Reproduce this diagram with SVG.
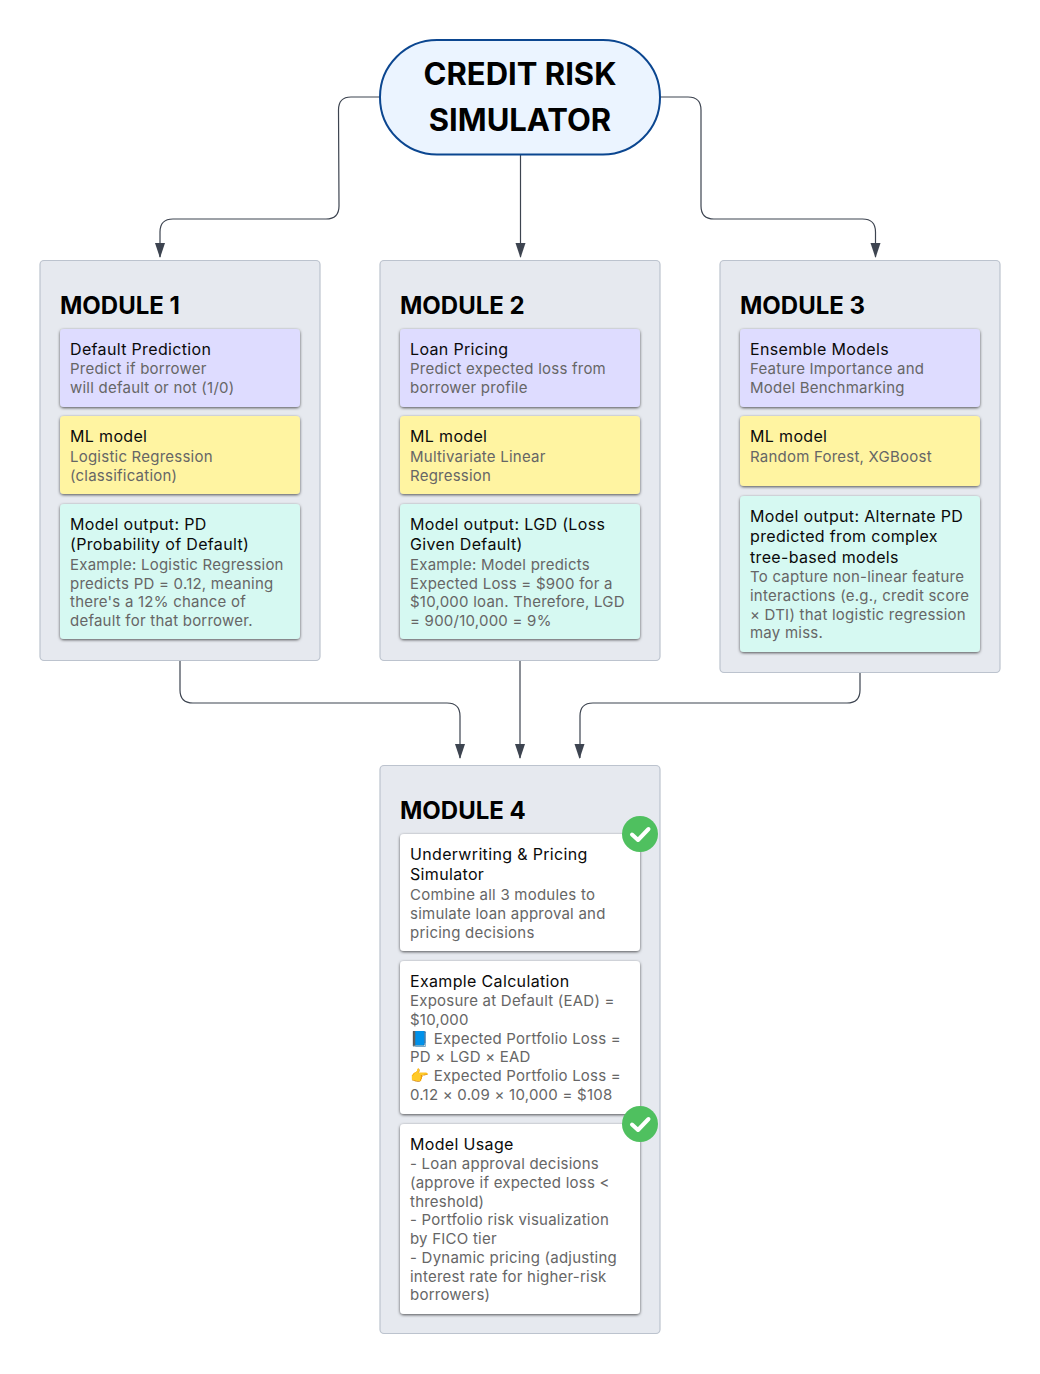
<svg xmlns="http://www.w3.org/2000/svg" width="1040" height="1374" viewBox="0 0 1040 1374">
<defs>
<filter id="sh" x="-5%" y="-5%" width="110%" height="115%"><feDropShadow dx="0" dy="1" stdDeviation="1.500" flood-color="#000" flood-opacity="0.65"/></filter>
</defs>
<style>
text{font-family:Inter,"Noto Sans",sans-serif;}
.mod{fill:#e6e9ef;stroke:#bcc3ce;stroke-width:1.2;}
.mt{font-size:24px;font-weight:700;fill:#000;}
.card{stroke:none;filter:url(#sh);}
.p{fill:#dedcff;}.y{fill:#fff4a1;}.g{fill:#d6f9f2;}.w{fill:#fff;}
.t{font-size:16px;fill:#0a0a0a;letter-spacing:.34px;}
.s{font-size:15px;fill:#666;letter-spacing:.23px;}
.c{fill:none;stroke:#3d4450;stroke-width:1.2;}
.h{font-size:31px;font-weight:700;fill:#000;text-anchor:middle;}
</style>
<g id="connectors">
<path class="c" d="M380 97H351Q338.500 97 338.500 110L339 206Q339 219 326 219H173Q160 219 160 232V257" />
<path class="c" d="M520.500 155V257"/>
<path class="c" d="M660 97H688Q701 97 701 110V206Q701 219 714 219H862.500Q875.500 219 875.500 232V257"/>
<path class="c" d="M180 660V690Q180 703 193 703H447Q460 703 460 716V758"/>
<path class="c" d="M520 660V758"/>
<path class="c" d="M860 672V690Q860 703 847 703H593Q580 703 580 716V758"/>
<g fill="#3d4450">
<path d="M155 243H165L160 258Z"/><path d="M515.500 243H525.500L520.500 258Z"/><path d="M870.500 243H880.500L875.500 258Z"/>
<path d="M455 744H465L460 759Z"/><path d="M515 744H525L520 759Z"/><path d="M574.500 744H584.500L579.500 759Z"/>
</g>
</g>
<g id="root">
<rect x="380" y="40" width="280" height="114.500" rx="57" fill="#ebf4ff" stroke="#0b4690" stroke-width="2"/>
<text class="h" x="520" y="85">CREDIT RISK</text>
<text class="h" x="520" y="131">SIMULATOR</text>
</g>
<g id="module1">
<rect class="mod" x="40" y="260.500" width="280" height="400" rx="4"/>
<text class="mt" x="60" y="314">MODULE 1</text>
<rect class="card p" x="60" y="329" width="240" height="78" rx="4"/>
<text class="t" x="70" y="355">Default Prediction</text>
<text class="s" x="70" y="374">Predict if borrower</text>
<text class="s" x="70" y="393">will default or not (1/0)</text>
<rect class="card y" x="60" y="416" width="240" height="78" rx="4"/>
<text class="t" x="70" y="442">ML model</text>
<text class="s" x="70" y="462">Logistic Regression</text>
<text class="s" x="70" y="481">(classification)</text>
<rect class="card g" x="60" y="504" width="240" height="135" rx="4"/>
<text class="t" x="70" y="530">Model output: PD</text>
<text class="t" x="70" y="550">(Probability of Default)</text>
<text class="s" x="70" y="570">Example: Logistic Regression</text>
<text class="s" x="70" y="589">predicts PD = 0.12, meaning</text>
<text class="s" x="70" y="607">there's a 12% chance of</text>
<text class="s" x="70" y="626">default for that borrower.</text>
</g>
<g id="module2">
<rect class="mod" x="380" y="260.500" width="280" height="400" rx="4"/>
<text class="mt" x="400" y="314">MODULE 2</text>
<rect class="card p" x="400" y="329" width="240" height="78" rx="4"/>
<text class="t" x="410" y="355">Loan Pricing</text>
<text class="s" x="410" y="374">Predict expected loss from</text>
<text class="s" x="410" y="393">borrower profile</text>
<rect class="card y" x="400" y="416" width="240" height="78" rx="4"/>
<text class="t" x="410" y="442">ML model</text>
<text class="s" x="410" y="462">Multivariate Linear</text>
<text class="s" x="410" y="481">Regression</text>
<rect class="card g" x="400" y="504" width="240" height="135" rx="4"/>
<text class="t" x="410" y="530">Model output: LGD (Loss</text>
<text class="t" x="410" y="550">Given Default)</text>
<text class="s" x="410" y="570">Example: Model predicts</text>
<text class="s" x="410" y="589">Expected Loss = $900 for a</text>
<text class="s" x="410" y="607">$10,000 loan. Therefore, LGD</text>
<text class="s" x="410" y="626">= 900/10,000 = 9%</text>
</g>
<g id="module3">
<rect class="mod" x="720" y="260.500" width="280" height="412" rx="4"/>
<text class="mt" x="740" y="314">MODULE 3</text>
<rect class="card p" x="740" y="329" width="240" height="78" rx="4"/>
<text class="t" x="750" y="355">Ensemble Models</text>
<text class="s" x="750" y="374">Feature Importance and</text>
<text class="s" x="750" y="393">Model Benchmarking</text>
<rect class="card y" x="740" y="416" width="240" height="70" rx="4"/>
<text class="t" x="750" y="442">ML model</text>
<text class="s" x="750" y="462">Random Forest, XGBoost</text>
<rect class="card g" x="740" y="496" width="240" height="156" rx="4"/>
<text class="t" x="750" y="522">Model output: Alternate PD</text>
<text class="t" x="750" y="542">predicted from complex</text>
<text class="t" x="750" y="563">tree-based models</text>
<text class="s" x="750" y="582">To capture non-linear feature</text>
<text class="s" x="750" y="601">interactions (e.g., credit score</text>
<text class="s" x="750" y="620">× DTI) that logistic regression</text>
<text class="s" x="750" y="638">may miss.</text>
</g>
<g id="module4">
<rect class="mod" x="380" y="765.500" width="280" height="568" rx="4"/>
<text class="mt" x="400" y="819">MODULE 4</text>
<rect class="card w" x="400" y="834" width="240" height="117" rx="4"/>
<text class="t" x="410" y="860">Underwriting &amp; Pricing</text>
<text class="t" x="410" y="880">Simulator</text>
<text class="s" x="410" y="900">Combine all 3 modules to</text>
<text class="s" x="410" y="919">simulate loan approval and</text>
<text class="s" x="410" y="938">pricing decisions</text>
<rect class="card w" x="400" y="961" width="240" height="153" rx="4"/>
<text class="t" x="410" y="987">Example Calculation</text>
<text class="s" x="410" y="1006">Exposure at Default (EAD) =</text>
<text class="s" x="410" y="1025">$10,000</text>
<text class="s" x="410" y="1044">📘 Expected Portfolio Loss =</text>
<text class="s" x="410" y="1062">PD × LGD × EAD</text>
<text class="s" x="410" y="1081">👉 Expected Portfolio Loss =</text>
<text class="s" x="410" y="1100">0.12 × 0.09 × 10,000 = $108</text>
<rect class="card w" x="400" y="1124" width="240" height="190" rx="4"/>
<text class="t" x="410" y="1150">Model Usage</text>
<text class="s" x="410" y="1169">- Loan approval decisions</text>
<text class="s" x="410" y="1188">(approve if expected loss &lt;</text>
<text class="s" x="410" y="1207">threshold)</text>
<text class="s" x="410" y="1225">- Portfolio risk visualization</text>
<text class="s" x="410" y="1244">by FICO tier</text>
<text class="s" x="410" y="1263">- Dynamic pricing (adjusting</text>
<text class="s" x="410" y="1282">interest rate for higher-risk</text>
<text class="s" x="410" y="1300">borrowers)</text>
</g>
<g id="badge1">
<circle cx="640" cy="834" r="18" fill="#4fc05f"/>
<path d="M632 834.500L638 840L648.500 829" fill="none" stroke="#fff" stroke-width="4" stroke-linecap="round" stroke-linejoin="round"/>
</g>
<g id="badge2">
<circle cx="640" cy="1124" r="18" fill="#4fc05f"/>
<path d="M632 1124.500L638 1130L648.500 1119" fill="none" stroke="#fff" stroke-width="4" stroke-linecap="round" stroke-linejoin="round"/>
</g>
</svg>
